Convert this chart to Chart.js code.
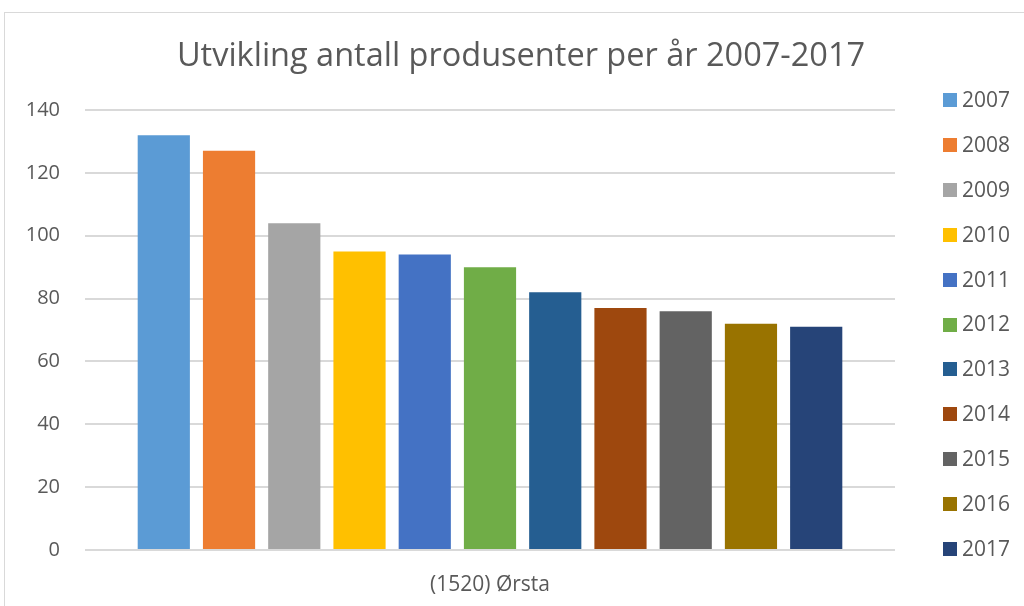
<!DOCTYPE html>
<html>
<head>
<meta charset="utf-8">
<script src="https://cdn.jsdelivr.net/npm/chart.js@4.4.1/dist/chart.umd.min.js"></script>
<style>
  html, body { margin: 0; padding: 0; background: #fff; overflow: hidden; }
  #wrap { position: relative; width: 1024px; height: 606px; }
  #frame { position: absolute; left: 4px; top: 12px; width: 1100px; height: 700px; border: 1px solid #d9d9d9; box-sizing: border-box; }
  canvas { position: absolute; left: 0; top: 0; }
</style>
</head>
<body>
<div id="wrap">
  <div id="frame"></div>
  <canvas id="c" width="1024" height="606"></canvas>
</div>
<script>
const titleText = 'Utvikling antall produsenter per år 2007-2017';
const categories = ['(1520) Ørsta'];
const seriesNames = ['2007','2008','2009','2010','2011','2012','2013','2014','2015','2016','2017'];
const seriesValues = [132, 127, 104, 95, 94, 90, 82, 77, 76, 72, 71];
const seriesColors = ['#5B9BD5','#ED7D31','#A5A5A5','#FFC000','#4472C4','#70AD47','#255E91','#9E480E','#636363','#997300','#264478'];
const yTicks = [0, 20, 40, 60, 80, 100, 120, 140];

const FONT = "'Open Sans', 'Liberation Sans', sans-serif";
const TEXT = '#595959';

const overlay = {
  id: 'overlay',
  afterDraw(chart) {
    const ctx = chart.ctx;
    ctx.save();
    ctx.fillStyle = TEXT;
    ctx.font = '32.5px ' + FONT;
    ctx.textAlign = 'center';
    ctx.textBaseline = 'middle';
    ctx.fillText(titleText, 521, 57);
    ctx.font = '21px ' + FONT;
    ctx.textAlign = 'left';
    chart.data.datasets.forEach((ds, i) => {
      const y = 100 + i * 44.9;
      ctx.fillStyle = ds.backgroundColor;
      ctx.fillRect(943, Math.round(y - 7), 14, 14);
      ctx.fillStyle = TEXT;
      ctx.fillText(ds.label, 962, y + 1);
    });
    ctx.restore();
  }
};

new Chart(document.getElementById('c'), {
  type: 'bar',
  data: {
    labels: categories,
    datasets: seriesNames.map((n, i) => ({
      label: n,
      data: [seriesValues[i]],
      backgroundColor: seriesColors[i],
      borderWidth: 0,
      categoryPercentage: 0.886,
      barPercentage: 0.8
    }))
  },
  options: {
    responsive: false,
    animation: false,
    layout: { padding: { left: 0, right: 129, top: 110, bottom: 0 } },
    plugins: { legend: { display: false }, title: { display: false }, tooltip: { enabled: false } },
    scales: {
      x: {
        grid: { display: false },
        border: { display: false },
        ticks: { color: TEXT, font: { family: FONT, size: 21 }, padding: 14 },
        afterFit: s => { s.height = 56; }
      },
      y: {
        min: 0, max: 140,
        afterBuildTicks: s => { s.ticks = yTicks.map(v => ({ value: v })); },
        grid: { color: '#d9d9d9', lineWidth: 2, drawTicks: false },
        border: { display: false },
        ticks: { color: TEXT, font: { family: FONT, size: 20 }, padding: 25 },
        afterFit: s => { s.width = 85; }
      }
    }
  },
  plugins: [overlay]
});
</script>
</body>
</html>
